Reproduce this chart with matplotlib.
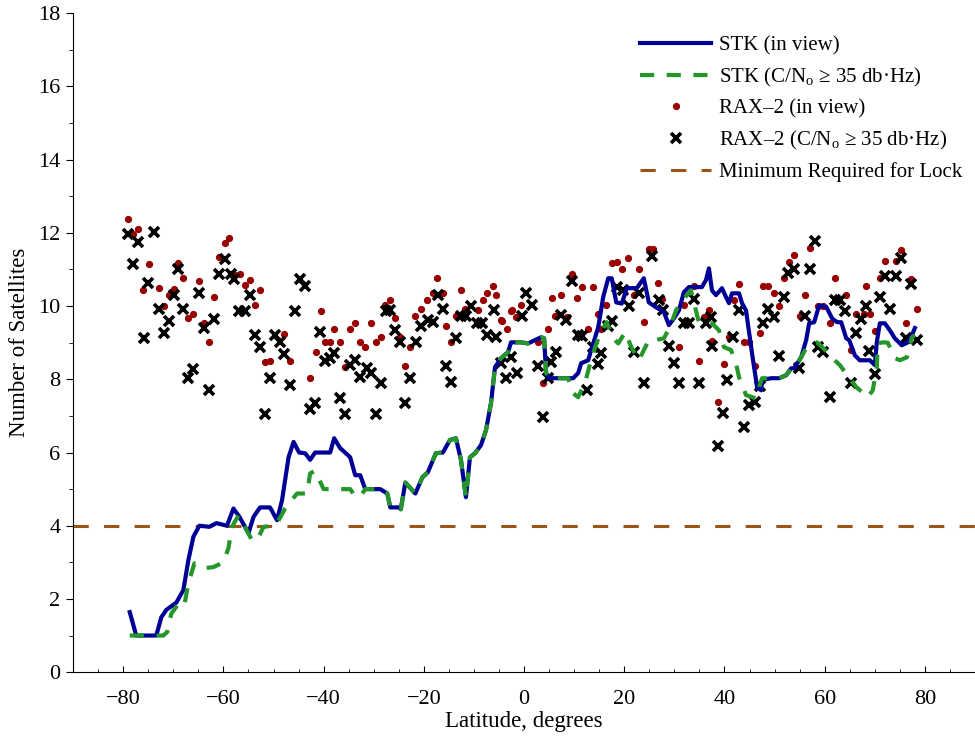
import matplotlib
matplotlib.use("Agg")
import matplotlib.pyplot as plt
from matplotlib.ticker import MultipleLocator
from matplotlib.lines import Line2D

plt.rcParams['font.family'] = ['Liberation Serif', 'DejaVu Serif']
plt.rcParams['mathtext.fontset'] = 'custom'
plt.rcParams['mathtext.rm'] = 'Liberation Serif'
plt.rcParams['mathtext.it'] = 'Liberation Serif:italic'
plt.rcParams['axes.unicode_minus'] = True

# STK simulation: satellites in view
stk_lat = [-78.7, -77.4, -73.4, -72.4, -71.4, -69.4, -68.0, -67.0, -66.0, -64.8, -62.8, -61.4,
           -59.3, -58.0, -56.8, -55.0, -54.0, -52.7, -50.7, -49.3, -48.3, -47.0, -46.0, -44.9,
           -43.7, -42.7, -41.7, -38.7, -37.9, -36.7, -34.7, -33.7, -32.7, -31.7, -28.7, -27.3,
           -26.7, -24.9, -24.6, -23.7, -21.7, -20.3, -19.2, -17.6, -16.2, -14.8, -13.6, -12.6,
           -11.6, -10.8, -9.8, -8.6, -7.6, -6.6, -5.8, -4.6, -3.2, -2.6, -0.6, 0.8, 3.4, 4.0,
           4.4, 5.0, 9.8, 10.8, 11.4, 12.8, 13.4, 14.8, 15.8, 16.8, 17.5, 18.4, 19.5, 20.5,
           22.5, 23.9, 24.9, 26.2, 27.9, 28.9, 29.9, 30.9, 31.9, 32.9, 35.5, 36.3, 36.9, 37.5,
           38.3, 39.5, 40.3, 40.9, 41.5, 42.9, 43.5, 44.3, 45.5, 46.5, 47.3, 47.5, 49.3, 50.9,
           52.3, 53.3, 53.9, 55.3, 56.3, 56.9, 57.9, 58.9, 60.3, 61.5, 62.5, 63.3, 64.3, 64.9,
           66.0, 67.0, 69.0, 70.0, 70.4, 71.0, 72.0, 73.0, 74.0, 75.4, 76.6, 77.4, 78.0]
stk_view = [1.64, 1.0, 1.0, 1.5, 1.7, 1.9, 2.24, 3.06, 3.7, 4.0, 3.97, 4.07,
            4.0, 4.47, 4.24, 3.8, 4.24, 4.5, 4.5, 4.15, 4.7, 5.87, 6.29, 6.0,
            5.98, 5.8, 6.0, 6.0, 6.39, 6.12, 5.87, 5.38, 5.38, 5.0, 5.0, 4.88,
            4.5, 4.5, 4.45, 5.18, 4.88, 5.32, 5.46, 5.98, 6.0, 6.34, 6.39, 5.8,
            4.78, 5.87, 5.98, 6.2, 6.61, 7.35, 8.33, 8.58, 8.74, 9.01, 9.01, 8.98, 9.15, 9.12,
            8.17, 8.03, 8.03, 8.17, 8.44, 8.52, 8.8, 9.42, 10.25, 10.76, 10.76, 10.1, 10.07, 10.49,
            10.49, 10.76, 10.1, 9.98, 9.84, 9.48, 9.66, 9.88, 10.38, 10.52, 10.52, 10.71, 11.03, 10.43,
            10.3, 10.49, 10.25, 10.08, 10.35, 10.35, 10.08, 9.88, 8.71, 7.79, 7.7, 7.98, 8.03, 8.03,
            8.11, 8.3, 8.3, 8.6, 9.07, 9.53, 9.56, 10.02, 9.98, 9.66, 9.56, 9.56, 9.12, 9.07,
            8.66, 8.52, 8.52, 8.39, 9.01, 9.53, 9.53, 9.34, 9.12, 8.93, 9.01, 9.2, 9.4]

# STK simulation: satellites with C/No >= 35 dB-Hz
cn_lat = [-78.7, -72.0, -71.2, -70.4, -68.8, -67.8, -67.0, -65.8, -63.8, -62.0, -60.0, -59.0,
          -58.3, -57.0, -55.7, -54.3, -53.3, -52.0, -50.0, -49.3, -47.7, -46.7, -45.3, -43.3,
          -42.7, -41.7, -40.0, -37.3, -34.7, -33.7, -32.7, -31.7, -28.7, -27.3,
          -26.7, -24.9, -24.6, -23.7, -21.7, -20.3, -19.2, -17.6, -16.2, -14.8, -13.6, -12.6,
          -11.6, -10.8, -9.8, -8.6, -7.6, -6.6, -5.8, -4.6, -3.2, -2.6, -0.6, 0.8, 3.4, 4.0,
          4.4, 5.0, 8.8, 9.8, 10.8, 12.2, 13.2, 14.2, 15.2, 16.5, 17.8, 18.8, 20.2, 21.4, 22.9,
          24.9, 26.2, 27.9, 29.3, 30.3, 31.9, 33.3, 34.3, 34.9, 36.3, 37.5, 38.9, 39.9, 41.3,
          42.3, 42.9, 44.3, 46.3, 46.9, 47.5, 49.3, 50.9, 52.3, 53.3, 53.9, 55.3, 56.3, 58.5,
          59.5, 62.0, 63.0, 65.0, 66.3, 68.6, 69.6, 70.4, 70.6, 71.6, 72.6, 74.0, 75.0, 76.4,
          77.4, 78.0]
stk_cn = [1.0, 1.0, 1.1, 1.6, 1.9, 1.83, 2.43, 2.97, 2.84, 2.87, 3.0, 3.39,
          3.97, 4.28, 3.97, 3.6, 3.6, 3.97, 4.0, 4.07, 4.47, 4.65, 4.88, 4.88,
          5.43, 5.5, 5.0, 5.0, 5.0, 4.8, 4.8, 5.0, 5.0, 4.88,
          4.5, 4.5, 4.45, 5.18, 4.88, 5.32, 5.46, 5.98, 6.0, 6.34, 6.39, 5.8,
          4.78, 5.87, 5.98, 6.2, 6.61, 7.35, 8.33, 8.58, 8.74, 9.01, 9.01, 8.98, 9.15, 9.12,
          8.17, 8.03, 8.03, 7.62, 7.51, 7.92, 8.44, 8.88, 9.26, 9.56, 9.12, 8.98, 9.29, 8.88, 8.52,
          9.07, 9.07, 9.12, 9.48, 9.88, 10.2, 10.43, 9.88, 9.56, 9.56, 9.53, 9.34, 8.88, 8.8,
          8.44, 8.06, 7.57, 7.48, 7.79, 8.03, 8.03, 8.03, 8.11, 8.3, 8.3, 8.6, 8.85, 9.01,
          8.88, 8.52, 8.39, 8.03, 7.79, 7.51, 7.7, 8.33, 8.98, 9.01, 9.0, 8.58, 8.52, 8.6,
          9.15, 9.2]

# RAX-2 measurements: satellites in view
rax_view_lat = [-74.9, -76.0, -72.8, -70.8, -71.8, -69.8, -69.0, -68.0, -67.0, -66.0, -64.8, -63.8,
                -62.8, -61.8, -60.8, -59.7, -58.9, -57.7, -56.7, -55.7, -54.7, -53.7, -52.7, -51.7,
                -50.7, -47.9, -46.7, -42.7, -41.5, -40.5, -39.7, -79.0, -77.0, -78.0,
                -17.4, -18.2, -16.2, -12.6, -6.2, -7.4, -5.6, -8.2, -2.6, -0.6, -1.6, -19.4,
                -20.5, -21.7, -25.7, -26.7, -27.7, -30.5, -28.5, -29.5, -31.7, -32.7, -34.7, -33.7,
                -37.9, -36.7, -38.7, -35.7, -23.7, -24.7, -22.7, -15.6, -14.6, -9.2, -13.6, -4.4,
                -3.4, -11.8,
                -4.6, -2.4, 5.6, 7.4, 9.6, 10.6, 11.6, 13.8, 4.8, 6.2, 8.6, 12.8,
                17.6, 18.6, 19.6, 20.7, 22.9, 24.9, 25.7, 26.7, 16.4, 14.8, 15.4, 21.9,
                23.9, 27.5, 31.9, 33.9, 36.9, 30.9, 34.9, 37.5, 39.9, 40.9, 38.7, 3.8, 2.8,
                57.1, 53.9, 52.9, 51.9, 42.9, 47.7, 48.7, 49.9, 50.9, 47.1, 41.9, 35.9,
                43.9, 44.9, 46.1, 56.1, 55.1, 58.7, 59.7, 62.0, 61.0, 64.2, 65.2, 66.2,
                69.0, 68.2, 70.0, 71.0, 72.0, 74.2, 75.2, 77.2, 78.4, 76.2, 67.8]
rax_view = [11.14, 10.43, 10.49, 10.30, 10.00, 10.46, 11.17, 10.76, 9.67, 9.78, 10.68, 9.53,
            9.01, 10.24, 11.34, 11.72, 11.85, 10.84, 10.87, 10.57, 10.71, 10.02, 10.43, 8.47,
            8.49, 9.23, 8.49, 8.03, 8.74, 9.86, 9.01, 12.37, 12.10, 11.96,
            10.76, 10.35, 10.35, 10.43, 10.54, 10.35, 10.30, 10.16, 9.86, 10.02, 9.70, 10.16,
            9.92, 9.72, 9.67, 10.16, 10.02, 9.53, 9.15, 9.01, 8.88, 9.01, 9.37, 9.53,
            9.37, 9.01, 9.01, 8.33, 8.36, 9.15, 8.88, 9.45, 9.01, 9.89, 9.72, 9.59,
            9.37, 9.92,
            9.61, 9.89, 10.22, 10.30, 10.87, 10.22, 10.52, 10.52, 9.37, 9.72, 9.70, 9.37,
            11.17, 11.20, 11.01, 11.31, 11.01, 11.55, 11.55, 10.63, 10.02, 9.78, 9.37, 10.30,
            9.56, 10.19, 10.02, 10.54, 9.89, 8.88, 8.49, 9.04, 8.41, 9.15, 7.38, 7.89, 9.01,
            11.58, 11.39, 11.20, 10.76, 10.60, 10.54, 10.54, 10.35, 10.00, 9.26, 10.16, 9.70,
            9.01, 9.01, 8.36, 10.30, 9.72, 10.00, 10.00, 10.76, 9.53, 10.30, 8.80, 9.78,
            9.78, 10.54, 9.31, 10.76, 11.23, 11.23, 11.53, 10.73, 9.92, 9.53, 9.78]

# RAX-2 measurements: satellites with C/No >= 35 dB-Hz
rax_cn_lat = [-79.0, -77.0, -73.8, -78.0, -75.0, -75.8, -72.8, -70.8, -71.8, -69.8, -69.0, -68.0,
              -64.8, -63.8, -61.8, -66.0, -67.0, -62.8, -59.7, -60.8, -58.5, -57.9, -54.7, -56.9,
              -55.7, -53.7, -52.7, -49.7, -48.7, -47.9, -50.7, -46.7, -51.7, -44.7, -43.7, -45.7,
              -40.7, -39.7, -42.7, -41.7,
              -37.9, -38.7, -34.7, -33.7, -32.7, -31.3, -30.5, -28.5, -36.7, -35.7, -29.5, -23.7,
              -22.7, -27.5, -26.7, -25.7, -24.7, -21.5, -20.5, -19.2, -18.2, -17.2, -16.2, -15.6,
              -14.6, -13.6, -12.6, -11.6, -10.6, -9.4, -8.4, -7.4, -5.6, -6.0, -4.6, -2.6,
              -3.6, -1.4, 0.4, -0.4,
              1.6, 2.8, 3.8, 5.4, 6.4, 4.8, 7.4, 8.4, 9.6, 10.8, 11.6, 12.6,
              13.8, 14.8, 15.4, 16.8, 17.6, 18.6, 19.8, 20.9, 22.9, 21.9, 23.9, 25.5,
              26.9, 27.7, 28.9, 29.9, 30.9, 31.9, 32.9, 33.9, 34.9, 36.3, 37.3, 37.5,
              40.5, 39.7,
              58.1, 53.9, 52.7, 57.1, 51.9, 48.7, 49.9, 47.7, 42.9, 41.7, 50.9, 47.1,
              46.1, 44.9, 43.9, 38.7, 56.1, 54.9, 58.7, 59.7, 61.0, 62.0, 63.0, 64.0,
              66.2, 67.2, 68.2, 68.8, 65.2, 70.0, 71.0, 73.0, 72.0, 74.2, 75.2, 77.2,
              76.2, 78.4]
rax_cn = [11.96, 11.75, 12.02, 11.14, 10.63, 9.12, 9.92, 9.59, 9.26, 10.30, 11.01, 9.92,
          10.35, 9.40, 9.64, 8.28, 8.03, 7.70, 11.28, 10.87, 10.87, 10.73, 10.30, 9.86,
          9.86, 9.21, 8.88, 9.21, 9.01, 8.69, 8.03, 7.84, 7.05, 10.73, 10.54, 9.86,
          9.29, 8.49, 7.18, 7.35,
          8.71, 8.58, 8.39, 8.52, 8.06, 8.30, 8.17, 7.89, 7.48, 7.05, 7.05, 7.35,
          8.03, 9.86, 9.89, 9.34, 9.01, 9.01, 9.45, 9.61, 9.56, 10.30, 9.92, 8.36,
          7.92, 9.12, 9.72, 9.72, 10.00, 9.53, 9.53, 9.21, 9.15, 9.89, 8.44, 8.60,
          8.03, 8.17, 10.35, 9.72,
          10.02, 8.36, 6.97, 8.47, 8.74, 8.03, 9.75, 9.61, 10.68, 9.21, 9.18, 7.70,
          8.88, 8.41, 8.71, 9.45, 9.59, 10.52, 10.43, 10.00, 10.35, 8.74, 7.89, 11.36,
          10.16, 9.89, 8.90, 8.44, 7.89, 9.53, 9.53, 10.19, 7.89, 9.53, 9.70, 8.90,
          7.98, 7.07,
          11.77, 11.01, 10.90, 11.01, 10.24, 9.92, 9.70, 9.53, 9.89, 9.15, 8.63, 7.81,
          7.38, 7.29, 6.69, 6.17, 9.72, 8.30, 8.88, 8.74, 7.51, 10.16, 10.16, 9.86,
          9.26, 9.64, 10.00, 8.77, 7.89, 8.14, 10.24, 9.92, 10.82, 10.82, 11.31, 10.60,
          9.12, 9.07]

min_lock = 4

c_blue = '#000096'
c_green = '#24962a'
c_red = '#990000'
c_brown = '#9a5518'

fig = plt.figure(figsize=(9.75, 7.37), dpi=100)
ax = fig.add_axes([0.075, 0.088, 0.925, 0.894])

ax.axhline(min_lock, color=c_brown, lw=2.2, dashes=(5, 5), zorder=1)
ax.plot(rax_view_lat, rax_view, 'o', color=c_red, ms=4.2, mec=c_red, zorder=2)
ax.plot(rax_cn_lat, rax_cn, 'x', color='black', ms=7.5, mew=2.6, zorder=3)
ax.plot(stk_lat, stk_view, color=c_blue, lw=3.0, zorder=4, solid_joinstyle='round')
ax.plot(cn_lat, stk_cn, color=c_green, lw=3.0, dashes=(3.4, 3.0), zorder=5)

ax.set_xlim(-90, 90)
ax.set_ylim(0, 18)
ax.xaxis.set_major_locator(MultipleLocator(20))
ax.xaxis.set_minor_locator(MultipleLocator(5))
ax.yaxis.set_major_locator(MultipleLocator(2))
ax.yaxis.set_minor_locator(MultipleLocator(1))
ax.spines['top'].set_visible(False)
ax.spines['right'].set_visible(False)
ax.tick_params(axis='y', which='major', direction='out', length=5, labelsize=16, pad=4)
ax.tick_params(axis='y', which='minor', direction='out', length=3)
ax.tick_params(axis='x', which='major', direction='in', length=4, labelsize=16, pad=13)
ax.tick_params(axis='x', which='minor', direction='in', length=2)

ax.set_xlabel('Latitude, degrees', fontsize=16.5, labelpad=1)
ax.set_ylabel('Number of Satellites', fontsize=16.5, labelpad=6)

handles = [
    Line2D([], [], color=c_blue, lw=3.0),
    Line2D([], [], color=c_green, lw=3.0, dashes=(3.4, 3.0)),
    Line2D([], [], ls='none', marker='o', color=c_red, ms=4.2),
    Line2D([], [], ls='none', marker='x', color='black', ms=7.5, mew=2.6),
    Line2D([], [], color=c_brown, lw=2.2, dashes=(5, 5)),
]
labels = [
    'STK (in view)',
    r'STK (C/N$_{\mathrm{o}}$ ≥ 35 db·Hz)',
    'RAX–2 (in view)',
    r'RAX–2 (C/N$_{\mathrm{o}}$ ≥ 35 db·Hz)',
    'Minimum Required for Lock',
]
ax.legend(handles, labels, loc='upper right', bbox_to_anchor=(1.0, 0.985), frameon=False,
          fontsize=15, handlelength=3.4, handletextpad=0.4, labelspacing=0.5,
          borderaxespad=0.2)

fig.savefig('out.png', dpi=100)
